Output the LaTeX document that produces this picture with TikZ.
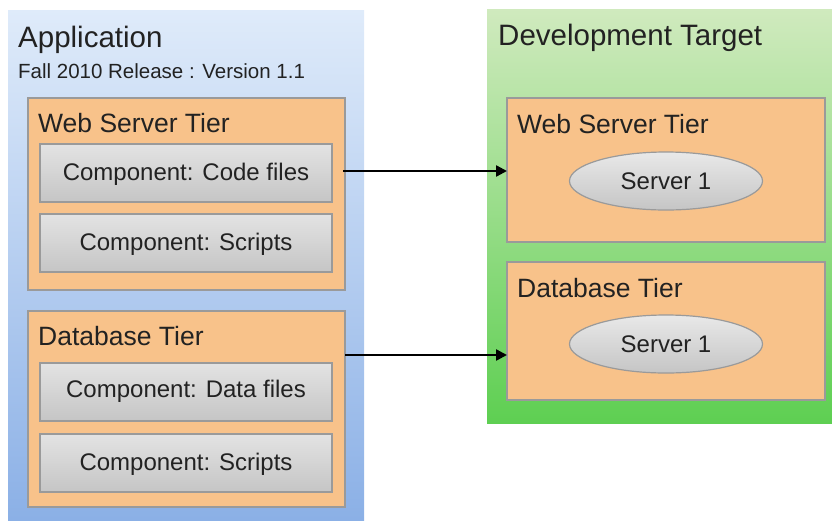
\documentclass[tikz,border=0pt]{standalone}
\usepackage{fontspec}
\setmainfont{Liberation Sans}
\usetikzlibrary{arrows.meta,calc,shapes.geometric}
\definecolor{bluetop}{HTML}{DFEBFA}
\definecolor{bluebot}{HTML}{8BB0E6}
\definecolor{greentop}{HTML}{D0EABE}
\definecolor{greenbot}{HTML}{5ECF52}
\definecolor{orangef}{HTML}{F8C28A}
\definecolor{edgegray}{HTML}{9A9A9A}
\definecolor{graytop}{HTML}{E3E3E3}
\definecolor{graybot}{HTML}{C5C5C5}
\definecolor{textc}{HTML}{222222}
\begin{document}
\begin{tikzpicture}[x=1pt,y=-1pt,
  panel/.style={draw=none,anchor=north west,inner sep=0pt,outer sep=0pt},
  tierbox/.style={draw=edgegray,line width=1.2pt,fill=orangef,anchor=north west,inner sep=0pt,outer sep=0pt},
  compbox/.style={draw=edgegray,line width=1.2pt,top color=graytop,bottom color=graybot,anchor=north west,inner sep=0pt,outer sep=0pt,minimum width=292pt,minimum height=58pt},
  srv/.style={ellipse,draw=edgegray,line width=1.2pt,top color=graytop!80!white,bottom color=graybot,minimum width=193pt,minimum height=58pt,inner sep=0pt},
  ttl/.style={anchor=base west,inner sep=0pt,text=textc,font=\fontsize{29.5}{34}\selectfont},
  sub/.style={anchor=base west,inner sep=0pt,text=textc,font=\fontsize{20.5}{24}\selectfont},
  tiert/.style={anchor=base west,inner sep=0pt,text=textc,font=\fontsize{26.5}{31}\selectfont},
  compt/.style={anchor=base,inner sep=0pt,text=textc,font=\fontsize{24}{28}\selectfont},
  arr/.style={line width=2.4pt,-{Triangle[length=11pt,width=11pt]}}
]
\useasboundingbox (0,0) rectangle (832,520);
% panels
\node[panel,top color=bluetop,bottom color=bluebot,minimum width=356pt,minimum height=510pt] (app) at (8,10) {};
\node[panel,top color=greentop,bottom color=greenbot,minimum width=345pt,minimum height=414pt] (dev) at (487,9) {};
\node[ttl] (apptitle) at (18,47) {Application};
\node[sub] (appsub) at (18,78) {Fall 2010 Release : Version 1.1};
\node[ttl] (devtitle) at (498,45) {Development Target};
% left tiers
\node[tierbox,minimum width=317pt,minimum height=192pt] (lweb) at (28,98) {};
\node[tiert] (lwebt) at (38,132) {Web Server Tier};
\node[compbox] (code) at (40,144) {};
\node[compt] at (186,180) {Component: Code files};
\node[compbox] (scr1) at (40,214) {};
\node[compt] at (186,250) {Component: Scripts};
\node[tierbox,minimum width=317pt,minimum height=196pt] (ldb) at (28,311) {};
\node[tiert] (ldbt) at (38,345) {Database Tier};
\node[compbox] (data) at (40,363) {};
\node[compt] at (186,397) {Component: Data files};
\node[compbox] (scr2) at (40,434) {};
\node[compt] at (186,470) {Component: Scripts};
% right tiers
\node[tierbox,minimum width=318pt,minimum height=144pt] (rweb) at (507,98) {};
\node[tiert] (rwebt) at (517,133) {Web Server Tier};
\node[srv] (s1) at (666,181) {};
\node[compt] at (666,189) {Server 1};
\node[tierbox,minimum width=318pt,minimum height=138pt] (rdb) at (507,262) {};
\node[tiert] (rdbt) at (517,297) {Database Tier};
\node[srv] (s2) at (666,344) {};
\node[compt] at (666,352) {Server 1};
% arrows
\coordinate (a1) at ($(lweb.north east)+(-2,73)$);
\coordinate (a2) at ($(ldb.north east)+(0,44)$);
\draw[arr] (a1) -- (rweb.west |- a1);
\draw[arr] (a2) -- (rdb.west |- a2);
\end{tikzpicture}
\end{document}
